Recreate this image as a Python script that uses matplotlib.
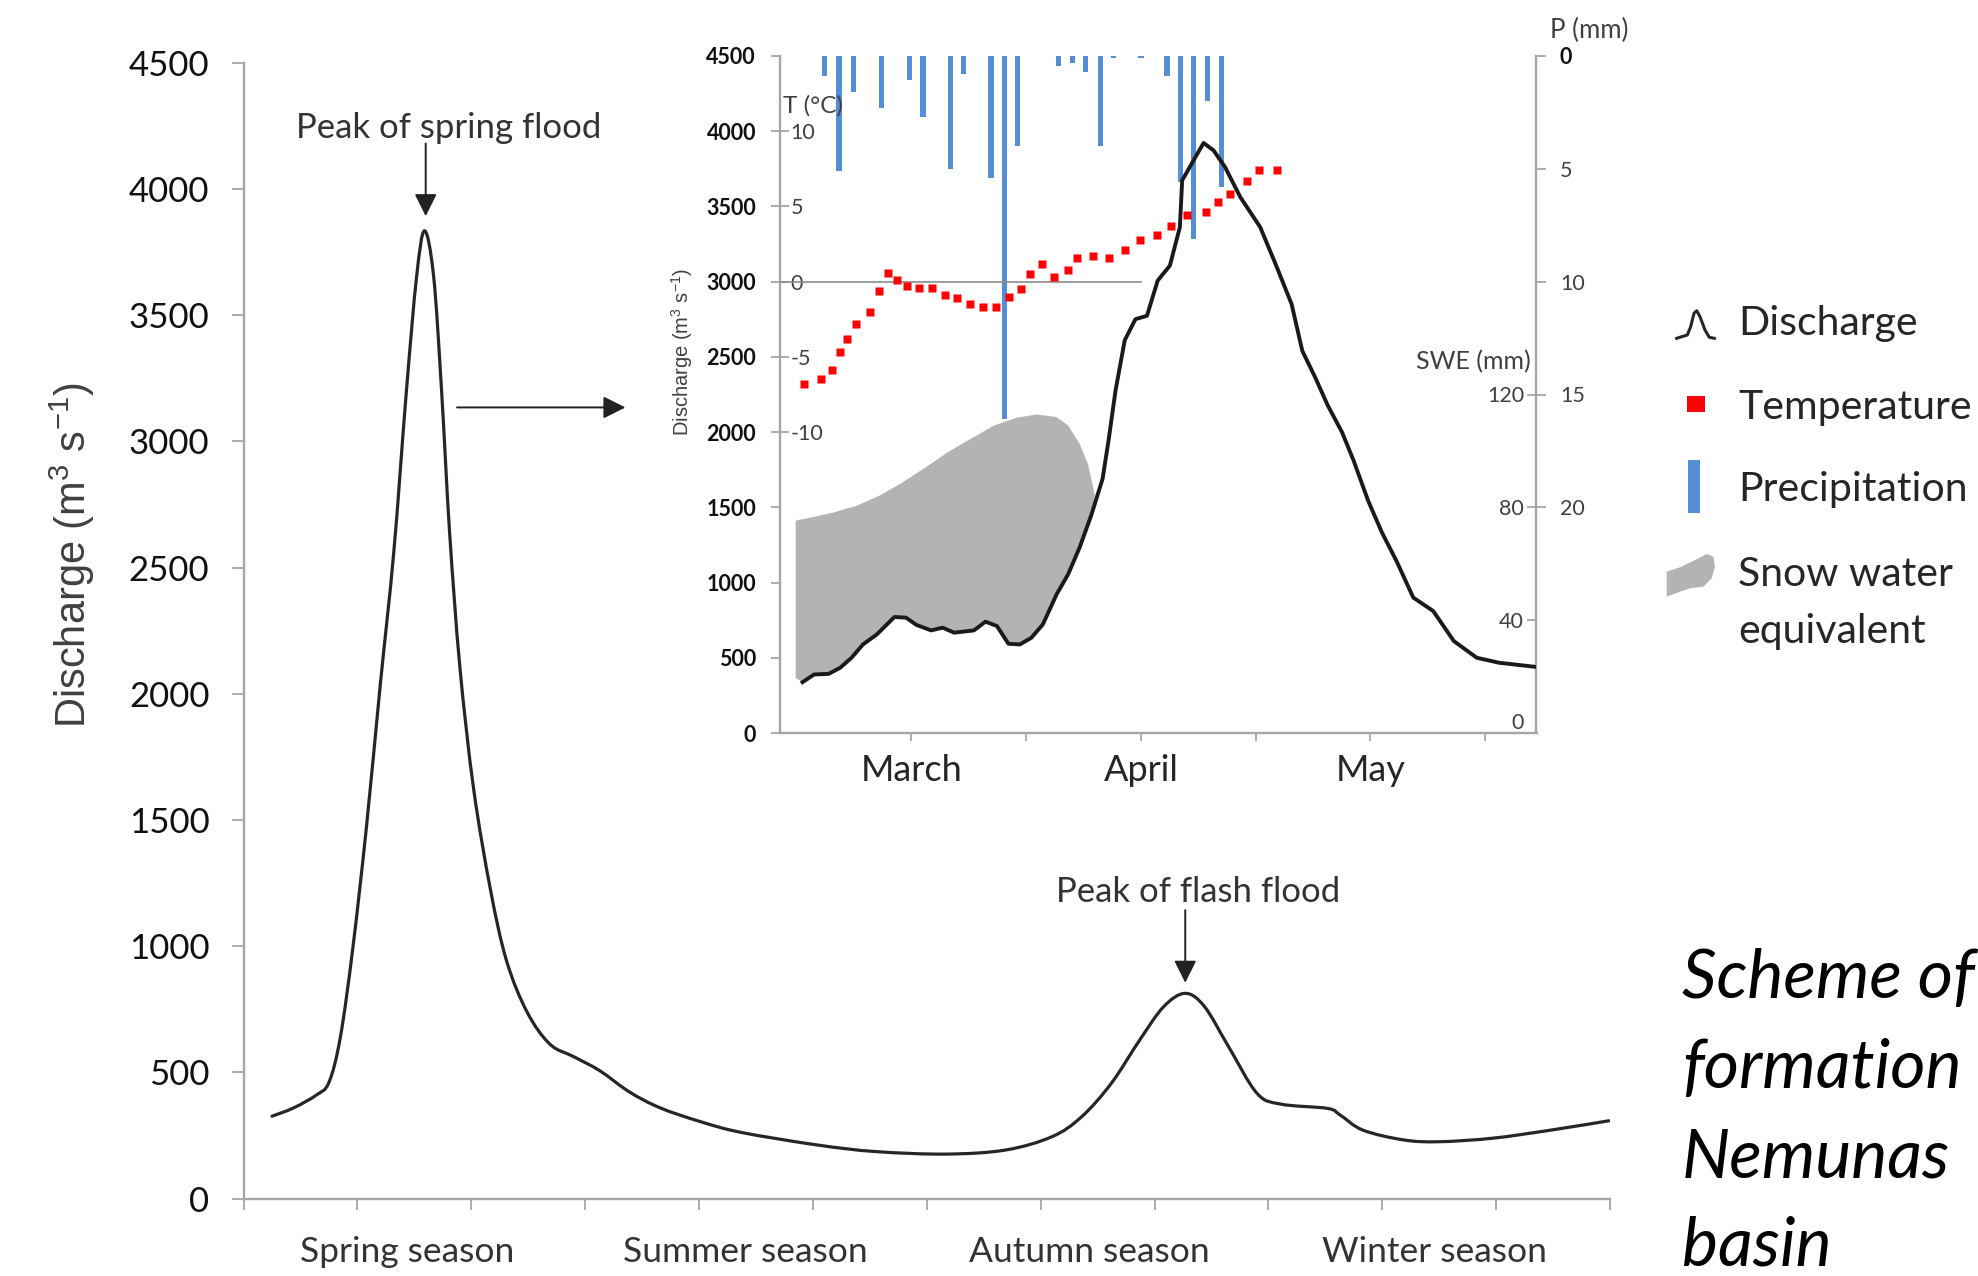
import matplotlib
matplotlib.use("Agg")
import matplotlib.pyplot as plt
import numpy as np
from matplotlib.lines import Line2D
from matplotlib.patches import Rectangle, Polygon, PathPatch
from matplotlib.path import Path

plt.rcParams['font.family'] = ['Lato', 'DejaVu Sans']
plt.rcParams['axes.unicode_minus'] = False
plt.rcParams['mathtext.fontset'] = 'custom'
plt.rcParams['mathtext.rm'] = 'Liberation Sans'
plt.rcParams['mathtext.it'] = 'Liberation Sans:italic'

# ---- main annual hydrograph (x in months from start of spring) ----
main_month = [0.25, 0.44, 0.64, 0.75, 0.85, 0.96, 1.08, 1.20, 1.32, 1.43, 1.52, 1.59,
              1.67, 1.74, 1.81, 1.90, 2.02, 2.17, 2.31, 2.49, 2.69, 2.90, 3.13, 3.39,
              3.66, 4.01, 4.37, 5.04, 5.55, 6.17, 6.69, 7.10, 7.36, 7.62, 7.87, 8.08,
              8.27, 8.44, 8.65, 8.90, 9.11, 9.52, 9.63, 9.83, 10.19, 10.50, 10.97,
              11.48, 11.99]
main_q = [326, 359, 410, 460, 638, 992, 1474, 2031, 2563, 3197, 3653, 3835,
          3653, 3197, 2639, 2107, 1626, 1221, 942, 739, 612, 562, 506, 422,
          359, 305, 262, 212, 186, 176, 192, 245, 324, 456, 628, 760,
          813, 760, 602, 417, 374, 357, 331, 271, 232, 225, 239,
          271, 308]
season_labels = ['Spring season', 'Summer season', 'Autumn season', 'Winter season']
season_pos = [1.44, 4.41, 7.43, 10.46]

# ---- inset: spring flood detail (x in days, 0 = "March" tick) ----
q_day = [-14.2, -12.7, -10.8, -9.3, -7.8, -6.3, -4.5, -2.2, -0.7, 0.7, 2.6, 4.1,
         5.6, 8.2, 9.7, 11.2, 12.7, 14.2, 15.7, 17.2, 19.0, 20.5, 22.0, 23.5,
         25.0, 25.8, 26.7, 27.9, 29.3, 30.8, 32.2, 33.8, 35.1, 35.4, 36.9, 38.2,
         39.5, 41.0, 43.0, 45.6, 47.6, 49.7, 51.1, 52.8, 54.4, 56.3, 57.8, 59.7,
         61.5, 63.4, 65.6, 68.2, 70.9, 73.9, 76.8, 81.5]
q_val = [338, 389, 393, 433, 500, 589, 655, 771, 767, 718, 682, 700,
         667, 682, 740, 711, 593, 589, 633, 722, 922, 1055, 1233, 1444,
         1689, 1950, 2278, 2611, 2751, 2773, 3007, 3107, 3362, 3673, 3807, 3922,
         3873, 3762, 3562, 3362, 3118, 2851, 2540, 2362, 2180, 1998, 1811, 1544,
         1333, 1144, 900, 811, 611, 500, 467, 440]

swe_day = [-15.1, -15.1, -13.1, -10.1, -7.1, -4.1, -1.1, 1.9, 4.8, 7.8, 10.8,
           13.8, 16.4, 19.0, 20.5, 22.0, 23.1, 24.0]
swe_mm = [19.5, 75.3, 76.4, 78.2, 80.6, 84.2, 88.9, 94.2, 99.6, 104.3, 109.0,
          111.8, 112.9, 112.0, 109.0, 102.5, 95.4, 84.0]

p_day = [-11.35, -9.43, -7.52, -3.86, -0.25, 1.55, 5.09, 6.83, 10.43, 12.17, 13.92,
         19.26, 21.06, 22.8, 24.7, 26.4, 30.0, 33.4, 35.2, 36.9, 38.7, 40.5]
p_mm = [0.9, 5.1, 1.6, 2.3, 1.05, 2.7, 5.0, 0.8, 5.4, 16.1, 4.0,
        0.45, 0.3, 0.7, 4.0, 0.1, 0.1, 0.9, 5.6, 8.1, 2.0, 5.8]

t_day = [-13.95, -11.75, -10.30, -9.32, -8.45, -7.17, -5.37, -4.20, -3.04, -1.88,
         -0.60, 0.97, 2.77, 4.40, 6.03, 7.65, 9.34, 11.14, 12.77, 14.39, 15.55,
         17.12, 18.69, 20.43, 21.65, 23.69, 25.78, 27.87, 29.85, 32.06, 33.97,
         36.0, 38.46, 40.08, 41.7, 43.9, 45.5, 47.8]
t_val = [-6.8, -6.5, -5.9, -4.7, -3.8, -2.8, -2.0, -0.6, 0.6, 0.1,
         -0.3, -0.4, -0.4, -0.9, -1.1, -1.5, -1.7, -1.7, -1.0, -0.5, 0.5,
         1.2, 0.3, 0.8, 1.6, 1.7, 1.6, 2.1, 2.8, 3.1, 3.7,
         4.4, 4.6, 5.3, 5.8, 6.7, 7.4, 7.4]

month_ticks = [0, 30, 60]
month_labels = ['March', 'April', 'May']

GREY = '#a6a6a6'
W, H = 1978, 1276


def fx(x):
    return x / W


def fy(y):
    return 1 - y / H


def smooth_path(x, y):
    # smoothed line like a spreadsheet "smooth line" (Catmull-Rom as Bezier)
    p = np.column_stack([x, y]).astype(float)
    ext = np.vstack([p[0], p, p[-1]])
    verts = [p[0]]
    for i in range(1, len(ext) - 2):
        c1 = ext[i] + (ext[i + 1] - ext[i - 1]) / 6
        c2 = ext[i + 1] - (ext[i + 2] - ext[i]) / 6
        verts += [c1, c2, ext[i + 1]]
    codes = [Path.MOVETO] + [Path.CURVE4] * (len(verts) - 1)
    return Path(verts, codes)


fig = plt.figure(figsize=(W / 100, H / 100), dpi=100)

# ================= main axes =================
ax = fig.add_axes([fx(243.5), fy(1198.5), (1610 - 243.5) / W, (1198.5 - 63) / H])
ax.add_patch(PathPatch(smooth_path(main_month, main_q), fc='none', ec='#262626',
                       lw=2.3, capstyle='round'))
ax.set_xlim(0, 12)
ax.set_ylim(0, 4500)
ax.set_yticks(np.arange(0, 4501, 500))
ax.set_xticks(season_pos, season_labels)
ax.set_xticks(np.arange(0, 13), minor=True)
ax.tick_params(axis='y', direction='out', length=8.5, width=1.3, color=GREY,
               labelsize=25, pad=16, labelcolor='#111111')
ax.tick_params(axis='x', which='major', length=0, labelsize=25.5, pad=27,
               labelcolor='#333333')
ax.tick_params(axis='x', which='minor', direction='out', length=8, width=1.3, color=GREY)
for side in ['top', 'right']:
    ax.spines[side].set_visible(False)
for side in ['left', 'bottom']:
    ax.spines[side].set_color(GREY)
    ax.spines[side].set_linewidth(1.7)

arrow = dict(arrowstyle='-|>', color='#222222', lw=1.4, mutation_scale=34,
             shrinkA=0, shrinkB=0)
ax.annotate('', xy=(1.60, 3893), xytext=(1.60, 4181), arrowprops=arrow)
ax.text(1.80, 4242, 'Peak of spring flood', ha='center', va='center',
        fontsize=25, color='#333333')
ax.annotate('', xy=(8.27, 855), xytext=(8.27, 1143), arrowprops=arrow)
ax.text(8.38, 1216, 'Peak of flash flood', ha='center', va='center',
        fontsize=25, color='#333333')
ax.annotate('', xy=(3.354, 3135), xytext=(1.875, 3135), arrowprops=arrow)

fig.text(fx(72), fy(555), 'Discharge (m$^{3}$ s$^{-1}$)', rotation=90,
         ha='center', va='center', fontsize=30, color='#404040',
         family='Liberation Sans')

# ================= inset axes =================
ax_in = fig.add_axes([fx(779.6), fy(733), (1536.5 - 779.6) / W, (733 - 56) / H])
ax_in.set_xlim(-17.2, 81.7)
ax_in.set_ylim(0, 4500)
ax_in.set_yticks(np.arange(0, 4501, 500))
ax_in.set_xticks(month_ticks, month_labels)
ax_in.set_xticks([15, 45, 75], minor=True)
ax_in.tick_params(axis='x', which='both', direction='out', length=6, width=1.3,
                  color=GREY, labelsize=26, pad=9, labelcolor='#262626')
ax_in.tick_params(axis='y', direction='out', length=6.5, width=1.3, color=GREY,
                  labelsize=15.5, pad=10.5, labelcolor='#111111')
for lab in ax_in.get_yticklabels():
    lab.set_fontweight('bold')
for side in ['top', 'right']:
    ax_in.spines[side].set_visible(False)
for side in ['left', 'bottom']:
    ax_in.spines[side].set_color(GREY)
    ax_in.spines[side].set_linewidth(1.7)

# snow water equivalent area (SWE axis: 0-240 mm over 0-4500)
swe_as_q = np.array(swe_mm) * 4500 / 240
q_day_arr = np.array(q_day)
q_val_arr = np.array(q_val)
low = q_day_arr <= 23.5
poly_x = np.concatenate([swe_day, q_day_arr[low][::-1]])
poly_y = np.concatenate([swe_as_q, q_val_arr[low][::-1]])
ax_in.fill(poly_x, poly_y, color='#b3b3b3', lw=0)

# precipitation, hanging from the top
ax_p = ax_in.twinx()
ax_p.set_ylim(30, 0)
ax_p.bar(p_day, p_mm, width=0.7, color='#558ed5', lw=0)
ax_p.set_yticks([0, 5, 10, 15, 20])
ax_p.tick_params(axis='y', direction='out', length=6.9, width=1.3, color=GREY,
                 labelsize=15.5, pad=10, labelcolor='#404040')
p_labels = ax_p.get_yticklabels()
p_labels[0].set_fontweight('bold')
p_labels[0].set_color('#111111')
for side in ['top', 'left', 'bottom']:
    ax_p.spines[side].set_visible(False)
ax_p.spines['right'].set_color(GREY)
ax_p.spines['right'].set_linewidth(1.7)

# SWE scale, ticks inside the right spine
ax_s = ax_in.twinx()
ax_s.set_ylim(0, 240)
ax_s.set_yticks([0, 40, 80, 120])
ax_s.tick_params(axis='y', direction='in', length=6.5, width=1.3, color=GREY,
                 labelsize=15.5, pad=-9, labelcolor='#404040')
s_labels = ax_s.get_yticklabels()
for lab in s_labels:
    lab.set_horizontalalignment('right')
s_labels[0].set_verticalalignment('bottom')
for side in ax_s.spines:
    ax_s.spines[side].set_visible(False)

# discharge line
ax_q = ax_in.twinx()
ax_q.set_ylim(0, 4500)
ax_q.yaxis.set_visible(False)
for side in ax_q.spines:
    ax_q.spines[side].set_visible(False)
ax_q.plot(q_day, q_val, color='#1a1a1a', lw=2.8)

# temperature, scale inside the left spine
ax_t = ax_in.twinx()
ax_t.set_ylim(-30, 15)
ax_t.yaxis.tick_left()
ax_t.set_yticks([-10, -5, 0, 5, 10])
ax_t.tick_params(axis='y', direction='in', length=6.5, width=1.3, color=GREY,
                 labelsize=15.5, pad=-8, labelcolor='#404040')
for lab in ax_t.get_yticklabels():
    lab.set_horizontalalignment('left')
for side in ax_t.spines:
    ax_t.spines[side].set_visible(False)
ax_t.plot([-17.2, 30], [0, 0], color='#8c8c8c', lw=1.2)
ax_t.plot(t_day, t_val, 's', color='#ff0000', ms=6.3, mec='none', ls='none')

fig.text(fx(783), fy(106), 'T (°C)', ha='left', va='center', fontsize=17.5,
         color='#404040')
fig.text(fx(1589), fy(30), 'P (mm)', ha='center', va='center', fontsize=18.5,
         color='#404040')
fig.text(fx(1531), fy(362), 'SWE (mm)', ha='right', va='center', fontsize=18,
         color='#404040')
fig.text(fx(682.5), fy(352), 'Discharge (m$^{3}$ s$^{-1}$)', rotation=90,
         ha='center', va='center', fontsize=14.5, color='#404040',
         family='Liberation Sans')

# ================= legend =================
icon_x = [1676.7, 1681.7, 1687.3, 1690.7, 1694, 1696.7, 1700, 1705, 1709.3, 1714.3]
icon_y = [338.3, 336.7, 335, 326.7, 313.3, 310.7, 316.7, 330, 337.3, 338.3]
fig.add_artist(Line2D([fx(v) for v in icon_x], [fy(v) for v in icon_y],
                      color='#262626', lw=2.2, transform=fig.transFigure))
fig.add_artist(Rectangle((fx(1687), fy(412)), 18 / W, 16 / H, color='#ff0000',
                         transform=fig.transFigure, lw=0))
fig.add_artist(Rectangle((fx(1688), fy(513)), 12 / W, 53 / H, color='#558ed5',
                         transform=fig.transFigure, lw=0))
blob = [(1666.7, 571.7), (1680, 567.3), (1696.7, 559.3), (1706.7, 554), (1713.3, 556.7),
        (1715, 566.7), (1711.7, 578.3), (1703.3, 586.7), (1690, 588.3), (1680, 591.7),
        (1666.7, 596.7)]
fig.add_artist(Polygon([(fx(a), fy(b)) for a, b in blob], closed=True, color='#b3b3b3',
                       lw=0, transform=fig.transFigure))
legend_rows = [('Discharge', 323), ('Temperature', 407), ('Precipitation', 489),
               ('Snow water', 574), ('equivalent', 632)]
for label, ypos in legend_rows:
    fig.text(fx(1738), fy(ypos), label, ha='left', va='center', fontsize=29.5,
             color='#262626')

# ================= caption (cut by the right edge) =================
caption = [('Scheme of', 998), ('formation', 1088), ('Nemunas', 1177), ('basin', 1265)]
for line, base in caption:
    fig.text(fx(1682), fy(base), line, ha='left', va='baseline', fontsize=49,
             fontstyle='italic', color='#000000')

fig.savefig('out.png', dpi=100)
